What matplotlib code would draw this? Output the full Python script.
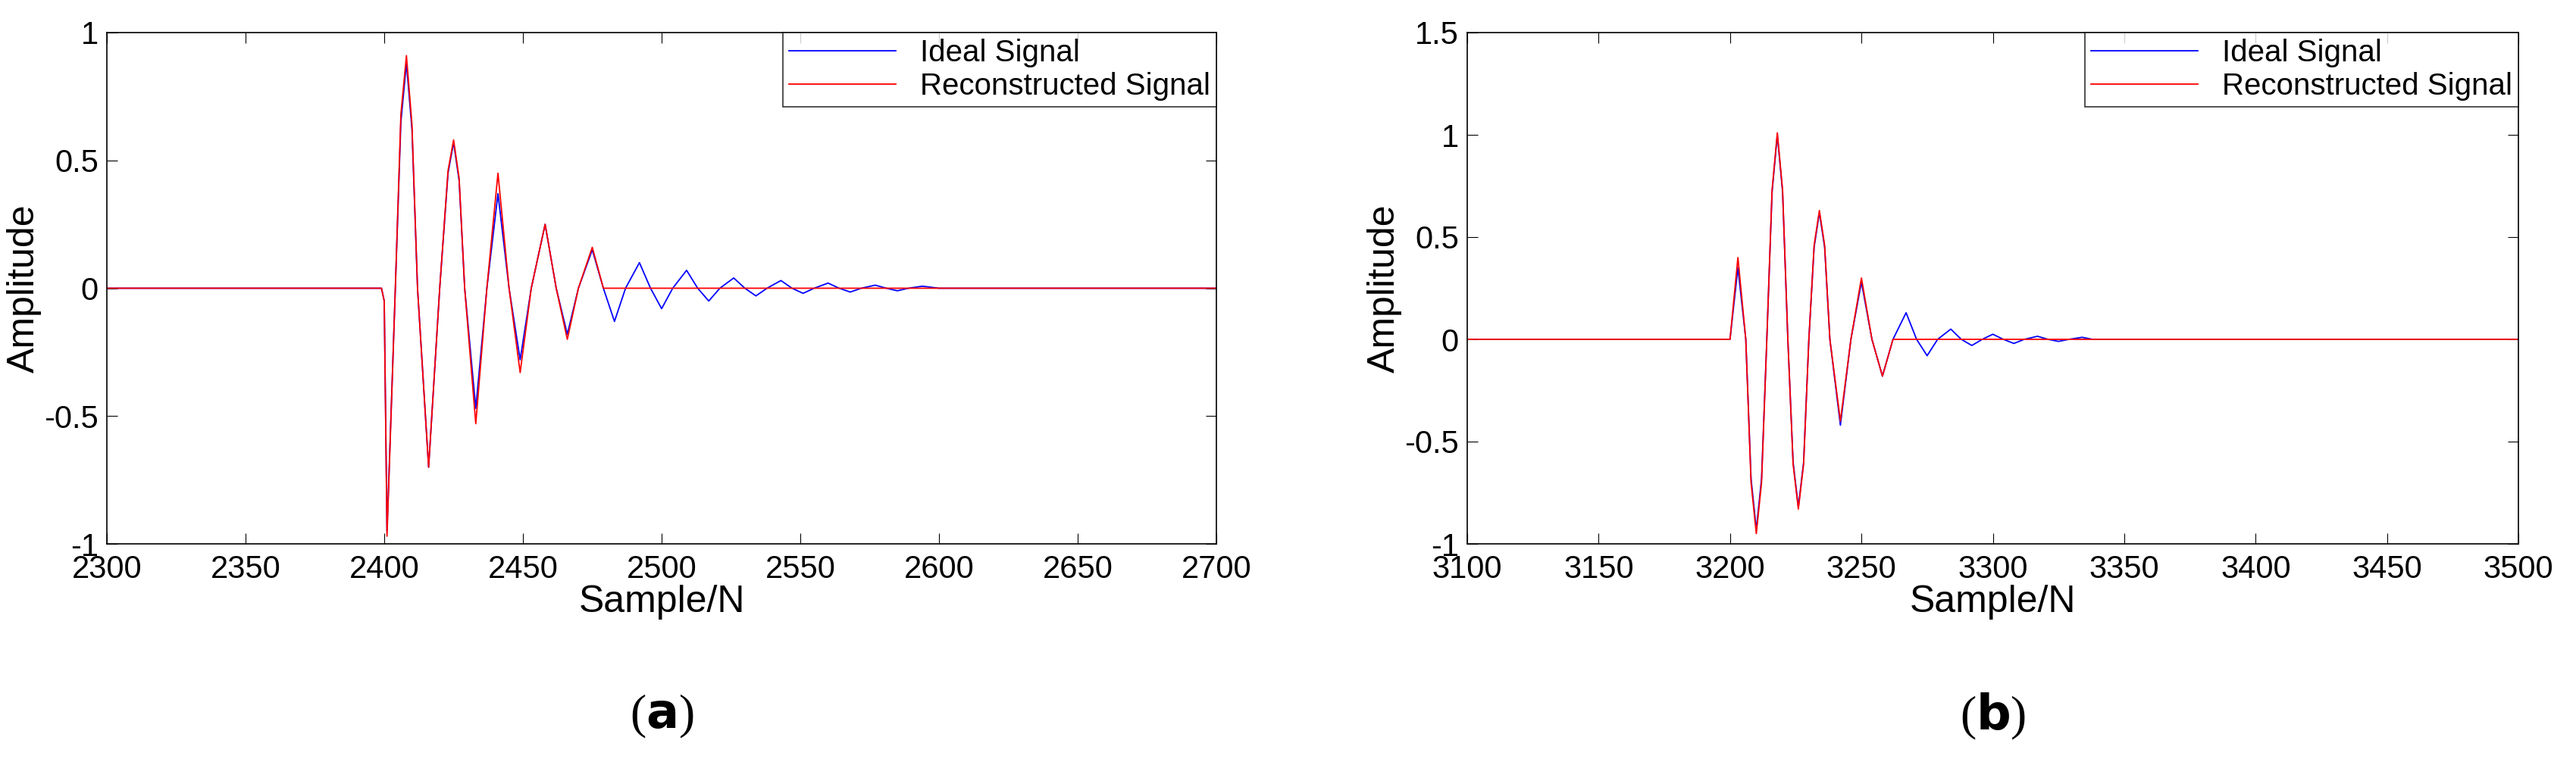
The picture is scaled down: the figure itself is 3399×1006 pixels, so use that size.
import matplotlib
matplotlib.use("Agg")
import matplotlib.pyplot as plt

plt.rcParams['font.family'] = ['Liberation Sans', 'DejaVu Sans']

# Panel (a)
a_ideal_x = [2300,2399,2400,2401,2404,2406,2408,2410,2412,2416,2420,2423,2425,2427,2429,2433,2437,2441,2445,2449,2453,2458,2462,2466,2470,2475,2479,2483,2487,2492,2496,2500,2504,2509,2513,2517,2521,2526,2530,2534,2538,2543,2547,2551,2555,2560,2564,2568,2572,2577,2581,2585,2589,2594,2600,2700]
a_ideal_y = [0,0,-0.05,-0.95,0,0.65,0.88,0.62,0,-0.70,0,0.45,0.57,0.42,0,-0.47,0,0.37,0,-0.28,0,0.25,0,-0.18,0,0.15,0,-0.13,0,0.10,0,-0.08,0,0.07,0,-0.05,0,0.04,0,-0.03,0,0.03,0,-0.02,0,0.02,0,-0.015,0,0.012,0,-0.01,0,0.008,0,0]
a_rec_x = [2300,2399,2400,2401,2404,2406,2408,2410,2412,2416,2420,2423,2425,2427,2429,2433,2437,2441,2445,2449,2453,2458,2462,2466,2470,2475,2479,2700]
a_rec_y = [0,0,-0.05,-0.97,0,0.68,0.91,0.64,0,-0.70,0,0.46,0.58,0.43,0,-0.53,0,0.45,0,-0.33,0,0.25,0,-0.20,0,0.16,0,0]

# Panel (b)
b_ideal_x = [3100,3200,3203,3206,3208,3210,3212,3214,3216,3218,3220,3222,3224,3226,3228,3230,3232,3234,3236,3238,3242,3246,3250,3254,3258,3262,3267,3271,3275,3279,3284,3288,3292,3296,3300,3304,3308,3312,3317,3321,3325,3329,3334,3338,3500]
b_ideal_y = [0,0,0.35,0,-0.68,-0.93,-0.68,0,0.72,1.0,0.72,0,-0.6,-0.82,-0.6,0,0.45,0.62,0.45,0,-0.42,0,0.28,0,-0.18,0,0.13,0,-0.08,0,0.05,0,-0.03,0,0.025,0,-0.02,0,0.015,0,-0.01,0,0.01,0,0]
b_rec_x = [3100,3200,3203,3206,3208,3210,3212,3214,3216,3218,3220,3222,3224,3226,3228,3230,3232,3234,3236,3238,3242,3246,3250,3254,3258,3262,3500]
b_rec_y = [0,0,0.40,0,-0.70,-0.95,-0.70,0,0.73,1.01,0.73,0,-0.61,-0.83,-0.61,0,0.46,0.63,0.46,0,-0.40,0,0.30,0,-0.18,0,0]

fig = plt.figure(figsize=(33.99, 10.06), dpi=100)
ax1 = fig.add_axes([141/3399, 1-718/1006, (1605-141)/3399, (718-43)/1006])
ax2 = fig.add_axes([1936/3399, 1-718/1006, (3323-1936)/3399, (718-43)/1006])

def style(ax, xlim, ylim, yticks, yticklabels):
    ax.set_xlim(*xlim); ax.set_ylim(*ylim)
    ax.set_yticks(yticks); ax.set_yticklabels(yticklabels)
    ax.tick_params(direction='in', top=True, right=True, labelsize=30, length=10)
    ax.tick_params(axis='x', pad=10)
    ax.tick_params(axis='y', pad=8)
    ax.set_xlabel('Sample/N', fontsize=36, labelpad=0)
    ax.set_ylabel('Amplitude', fontsize=36, labelpad=2)
    for s in ax.spines.values():
        s.set_linewidth(1.2)

ax1.plot(a_ideal_x, a_ideal_y, color='blue', lw=1.3, label='Ideal Signal')
ax1.plot(a_rec_x, a_rec_y, color='red', lw=1.3, label='Reconstructed Signal')
style(ax1, (2300, 2700), (-1, 1), [-1,-0.5,0,0.5,1], ['-1','-0.5','0','0.5','1'])
ax1.set_xticks(range(2300, 2701, 50))

ax2.plot(b_ideal_x, b_ideal_y, color='blue', lw=1.3, label='Ideal Signal')
ax2.plot(b_rec_x, b_rec_y, color='red', lw=1.3, label='Reconstructed Signal')
style(ax2, (3100, 3500), (-1, 1.5), [-1,-0.5,0,0.5,1,1.5], ['-1','-0.5','0','0.5','1','1.5'])
ax2.set_xticks(range(3100, 3501, 50))

for ax in (ax1, ax2):
    leg = ax.legend(loc='upper right', fontsize=29, frameon=True, fancybox=False,
                    borderaxespad=0, handlelength=3.5, borderpad=0.2, labelspacing=0.15)
    leg.get_frame().set_edgecolor('black'); leg.get_frame().set_linewidth(1.2)

fig.text((141+1605)/2/3399, 1-946/1006, r'($\mathbf{a}$)', ha='center', va='center', fontsize=46, family='Liberation Serif')
fig.text((1936+3323)/2/3399, 1-946/1006, r'($\mathbf{b}$)', ha='center', va='center', fontsize=46, family='Liberation Serif')

fig.savefig('out.png', dpi=100)
